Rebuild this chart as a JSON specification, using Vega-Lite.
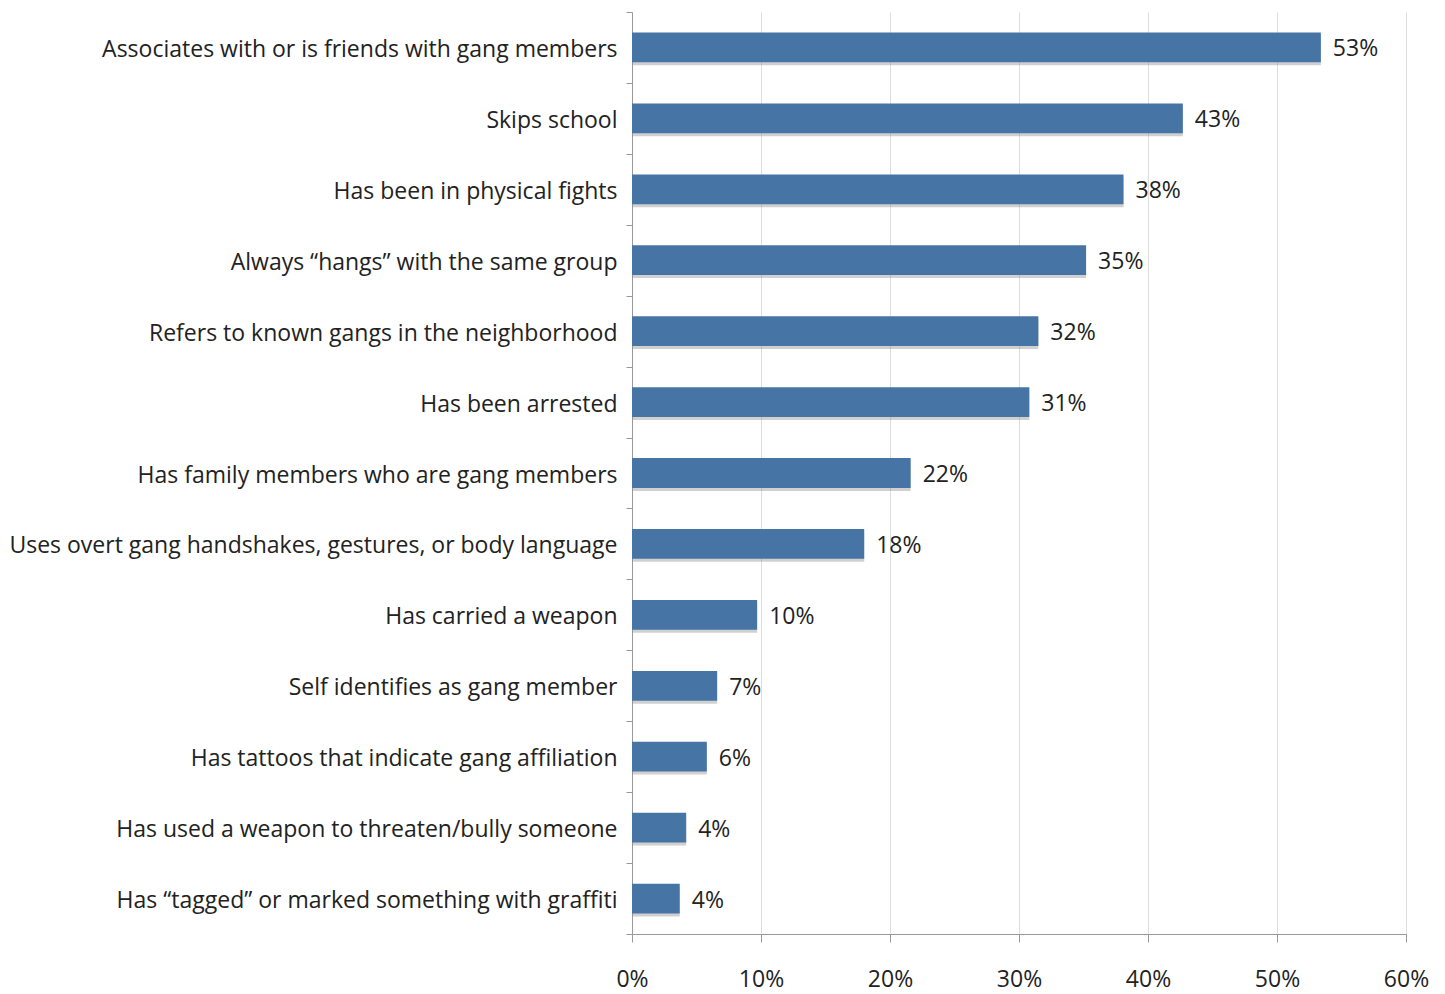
{
  "$schema": "https://vega.github.io/schema/vega-lite/v6.json",
  "width": 774,
  "height": 922,
  "autosize": {"type": "none"},
  "padding": {"left": 632, "top": 12, "right": 39, "bottom": 60},
  "background": "white",
  "config": {"view": {"stroke": null}, "font": "Open Sans"},
  "data": {"values": [
    {"indicator": "Associates with or is friends with gang members", "pct": 0.534, "label": "53%"},
    {"indicator": "Skips school", "pct": 0.427, "label": "43%"},
    {"indicator": "Has been in physical fights", "pct": 0.381, "label": "38%"},
    {"indicator": "Always \u201changs\u201d with the same group", "pct": 0.352, "label": "35%"},
    {"indicator": "Refers to known gangs in the neighborhood", "pct": 0.315, "label": "32%"},
    {"indicator": "Has been arrested", "pct": 0.308, "label": "31%"},
    {"indicator": "Has family members who are gang members", "pct": 0.216, "label": "22%"},
    {"indicator": "Uses overt gang handshakes, gestures, or body language", "pct": 0.180, "label": "18%"},
    {"indicator": "Has carried a weapon", "pct": 0.097, "label": "10%"},
    {"indicator": "Self identifies as gang member", "pct": 0.066, "label": "7%"},
    {"indicator": "Has tattoos that indicate gang affiliation", "pct": 0.058, "label": "6%"},
    {"indicator": "Has used a weapon to threaten/bully someone", "pct": 0.042, "label": "4%"},
    {"indicator": "Has \u201ctagged\u201d or marked something with graffiti", "pct": 0.037, "label": "4%"}
  ]},
  "encoding": {
    "y": {"field": "indicator", "type": "nominal", "sort": null,
      "scale": {"paddingInner": 0, "paddingOuter": 0},
      "axis": {"title": null, "tickBand": "extent", "labelFontSize": 23, "labelColor": "#222222",
        "labelPadding": 9, "labelOffset": 2, "tickSize": 6, "tickColor": "#999999", "domainColor": "#999999",
        "labelFont": "Open Sans", "labelLimit": 700, "grid": false}},
    "x": {"field": "pct", "type": "quantitative",
      "scale": {"domain": [0, 0.6], "nice": false},
      "axis": {"title": null, "format": ".0%", "values": [0, 0.1, 0.2, 0.3, 0.4, 0.5, 0.6],
        "labelFontSize": 23, "labelColor": "#222222", "labelPadding": 26, "tickSize": 8,
        "labelAlign": "center", "labelFlush": false,
        "tickColor": "#999999", "domainColor": "#999999", "grid": true, "gridColor": "#dddddd",
        "labelFont": "Open Sans"}}
  },
  "layer": [
    {"mark": {"type": "bar", "height": {"band": 0.42}, "color": "#8a8a8a", "opacity": 0.4, "yOffset": 3, "x2Offset": 2}},
    {"mark": {"type": "bar", "height": {"band": 0.42}, "color": "#4674a5"}},
    {"mark": {"type": "text", "align": "left", "baseline": "middle", "dx": 12, "dy": 2, "fontSize": 23, "color": "#222222", "font": "Open Sans"},
     "encoding": {"text": {"field": "label"}}}
  ]
}
